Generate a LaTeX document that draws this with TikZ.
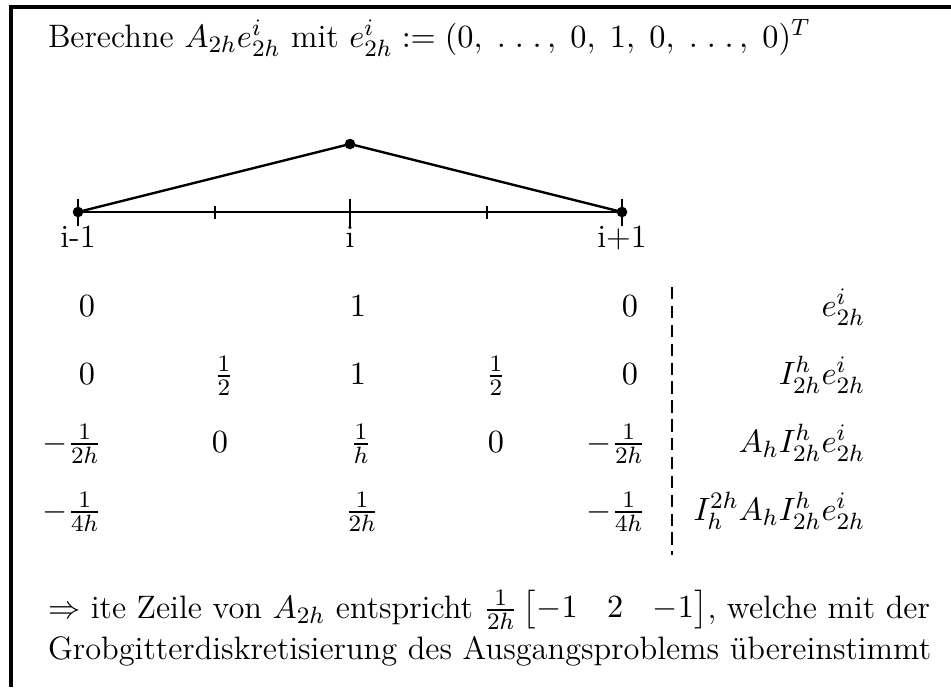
\documentclass[tikz,border=0pt]{standalone}
\usepackage{amsmath}
\newcommand{\wdots}{\ldotp\mkern2mu\ldotp\mkern2mu\ldotp}
\begin{document}
\begin{tikzpicture}[x=0.339pt,y=-0.339pt,
  every node/.style={font=\fontsize{11}{13.6}\selectfont},
  txt/.style={inner sep=0pt, outer sep=0pt, anchor=base west},
  cell/.style={inner sep=0pt, outer sep=0pt, anchor=base},
  lab/.style={inner sep=0pt, outer sep=0pt, anchor=base east},
  axisline/.style={line width=0.8pt},
  sepline/.style={line width=0.8pt, dash pattern=on 4.2pt off 2.2pt},
  frameline/.style={line width=1.1pt},
  knot/.style={fill=black}]
\useasboundingbox (0,0) rectangle (951,687);
\draw[frameline] (951,7) -- (11,7) -- (11,687);
% title
\node[txt] (title) at (48,47) {Berechne $A_{2h}e^i_{2h}$ mit $e^i_{2h} := (0,\;\wdots,\;0,\;1,\;0,\;\wdots,\;0)^T$};
% axis
\coordinate (p0) at (78,212);
\coordinate (p1) at (215,212);
\coordinate (p2) at (350,212);
\coordinate (p3) at (487,212);
\coordinate (p4) at (622,212);
\coordinate (top) at (350,144);
\draw[axisline] (p0) -- (p4);
\foreach \p in {p0,p2,p4} \draw[axisline] ([yshift=13*0.339pt]\p) -- ([yshift=-14*0.339pt]\p);
\foreach \p in {p1,p3} \draw[axisline] ([yshift=6.5*0.339pt]\p) -- ([yshift=-6.5*0.339pt]\p);
\draw[axisline] (p0) -- (top) -- (p4);
\fill[knot] (p0) circle[radius=1.8pt];
\fill[knot] (top) circle[radius=1.8pt];
\fill[knot] (p4) circle[radius=1.8pt];
\node[cell] (l0) at (78,247) {i-1};
\node[cell] (l2) at (350,247) {i};
\node[cell] (l4) at (622,247) {i+1};
% row 1
\node[cell] (a1) at (87,316) {$0$};
\node[cell] (a3) at (358,316) {$1$};
\node[cell] (a5) at (630,316) {$0$};
\node[lab] (ra) at (865,316) {$e^i_{2h}$};
% row 2
\node[cell] (b1) at (87,384) {$0$};
\node[cell] (b2) at (224,384) {$\frac{1}{2}$};
\node[cell] (b3) at (358,384) {$1$};
\node[cell] (b4) at (496,384) {$\frac{1}{2}$};
\node[cell] (b5) at (630,384) {$0$};
\node[lab] (rb) at (865,384) {$I^h_{2h}e^i_{2h}$};
% row 3
\node[cell] (c1) at (72,452) {$-\frac{1}{2h}$};
\node[cell] (c2) at (220,452) {$0$};
\node[cell] (c3) at (361,452) {$\frac{1}{h}$};
\node[cell] (c4) at (496,452) {$0$};
\node[cell] (c5) at (616,452) {$-\frac{1}{2h}$};
\node[lab] (rc) at (865,452) {$A_hI^h_{2h}e^i_{2h}$};
% row 4
\node[cell] (d1) at (72,520) {$-\frac{1}{4h}$};
\node[cell] (d3) at (362,520) {$\frac{1}{2h}$};
\node[cell] (d5) at (616,520) {$-\frac{1}{4h}$};
\node[lab] (rd) at (865,520) {$I_h^{2h}A_hI^h_{2h}e^i_{2h}$};
% separator
\coordinate (s0) at (672,287);
\coordinate (s1) at (672,555);
\draw[sepline] (s0) -- (s1);
% conclusion
\node[txt] (concl1) at (48,618) {$\Rightarrow$ ite Zeile von $A_{2h}$ entspricht $\frac{1}{2h}\begin{bmatrix}-1 & 2 & -1\end{bmatrix}$, welche mit der};
\node[txt] (concl2) at (48,659) {Grobgitterdiskretisierung des Ausgangsproblems übereinstimmt};
\end{tikzpicture}
\end{document}
